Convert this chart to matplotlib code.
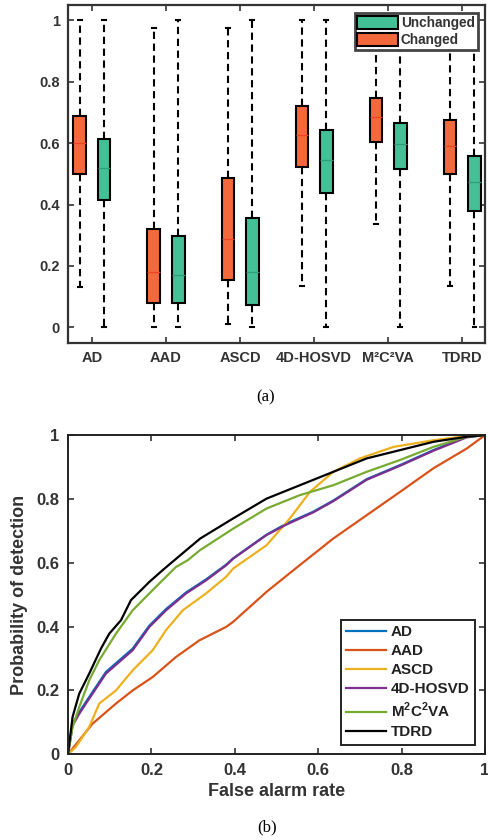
import numpy as np
import matplotlib.pyplot as plt

plt.rcParams['font.family'] = ['Liberation Sans', 'DejaVu Sans']
plt.rcParams['mathtext.fontset'] = 'custom'
plt.rcParams['mathtext.rm'] = 'Liberation Sans:bold'
plt.rcParams['mathtext.bf'] = 'Liberation Sans:bold'

# ---- (a) box plot data ----
methods = ['AD', 'AAD', 'ASCD', '4D-HOSVD', 'M²C²VA', 'TDRD']
ch_lo = [0.13, 0.00, 0.01, 0.135, 0.337, 0.136]
ch_q1 = [0.50, 0.079, 0.155, 0.522, 0.605, 0.501]
ch_med = [0.60, 0.179, 0.288, 0.628, 0.686, 0.591]
ch_q3 = [0.69, 0.32, 0.486, 0.722, 0.746, 0.674]
ch_hi = [1.00, 0.975, 0.975, 1.00, 1.00, 1.00]

un_lo = [0.00, 0.00, 0.00, 0.00, 0.00, 0.00]
un_q1 = [0.416, 0.079, 0.072, 0.437, 0.516, 0.378]
un_med = [0.519, 0.172, 0.18, 0.544, 0.597, 0.472]
un_q3 = [0.613, 0.297, 0.357, 0.643, 0.667, 0.557]
un_hi = [1.00, 1.00, 1.00, 1.00, 1.00, 1.00]

# ---- (b) ROC curves ----
ad_x = [0, 0.011, 0.027, 0.043, 0.091, 0.155, 0.195, 0.235, 0.283, 0.331, 0.379, 0.396, 0.476, 0.524, 0.588, 0.636, 0.716, 0.796, 0.876, 0.956, 1]
ad_y = [0, 0.095, 0.132, 0.164, 0.258, 0.331, 0.403, 0.455, 0.507, 0.548, 0.594, 0.614, 0.688, 0.723, 0.76, 0.795, 0.862, 0.906, 0.953, 0.995, 1]
aad_x = [0, 0.027, 0.059, 0.115, 0.155, 0.203, 0.259, 0.315, 0.379, 0.396, 0.476, 0.556, 0.636, 0.716, 0.796, 0.876, 0.956, 1]
aad_y = [0, 0.044, 0.096, 0.159, 0.2, 0.242, 0.305, 0.357, 0.399, 0.415, 0.509, 0.593, 0.676, 0.749, 0.822, 0.896, 0.958, 1]
ascd_x = [0, 0.019, 0.051, 0.075, 0.115, 0.155, 0.203, 0.235, 0.275, 0.331, 0.379, 0.396, 0.476, 0.532, 0.58, 0.636, 0.7, 0.78, 0.876, 0.956, 1]
ascd_y = [0, 0.023, 0.086, 0.159, 0.2, 0.263, 0.326, 0.389, 0.451, 0.504, 0.556, 0.582, 0.655, 0.739, 0.822, 0.885, 0.927, 0.963, 0.984, 0.997, 1]
hosvd_x = [0, 0.011, 0.027, 0.043, 0.091, 0.155, 0.195, 0.235, 0.283, 0.331, 0.379, 0.396, 0.476, 0.524, 0.588, 0.636, 0.716, 0.796, 0.876, 0.956, 1]
hosvd_y = [0, 0.09, 0.127, 0.159, 0.253, 0.326, 0.399, 0.451, 0.504, 0.545, 0.592, 0.613, 0.687, 0.72, 0.758, 0.793, 0.86, 0.904, 0.951, 0.993, 1]
m2_x = [0, 0.011, 0.027, 0.051, 0.075, 0.115, 0.155, 0.211, 0.259, 0.287, 0.317, 0.396, 0.476, 0.556, 0.636, 0.716, 0.796, 0.876, 0.956, 1]
m2_y = [0, 0.086, 0.148, 0.232, 0.295, 0.378, 0.451, 0.525, 0.587, 0.608, 0.64, 0.707, 0.77, 0.812, 0.843, 0.885, 0.922, 0.963, 0.995, 1]
tdrd_x = [0, 0.011, 0.027, 0.051, 0.079, 0.099, 0.127, 0.151, 0.195, 0.227, 0.255, 0.317, 0.396, 0.476, 0.556, 0.636, 0.716, 0.796, 0.876, 0.956, 1]
tdrd_y = [0, 0.117, 0.19, 0.253, 0.331, 0.378, 0.42, 0.483, 0.54, 0.577, 0.608, 0.676, 0.739, 0.801, 0.843, 0.885, 0.927, 0.953, 0.979, 0.995, 1]

txt = '#333333'
fig = plt.figure(figsize=(4.89, 8.4), dpi=100)

# ================= (a) =================
ax1 = fig.add_axes([0.139, 0.592, 0.853, 0.402])
pos = np.arange(1, len(methods) + 1)
off = 0.165


def stats(lo, q1, med, q3, hi):
    return [dict(whislo=lo[i], q1=q1[i], med=med[i], q3=q3[i], whishi=hi[i], fliers=[])
            for i in range(len(lo))]


common = dict(widths=0.17, patch_artist=True, showfliers=False, capwidths=0.05,
              whiskerprops=dict(color='black', linestyle=(0, (3.5, 2.2)), linewidth=1.5),
              capprops=dict(color='black', linewidth=1.5))
b1 = ax1.bxp(stats(ch_lo, ch_q1, ch_med, ch_q3, ch_hi), positions=pos - off,
             boxprops=dict(facecolor='#F4693B', edgecolor='black', linewidth=1.5),
             medianprops=dict(color='#E8452A', linewidth=0.9), **common)
b2 = ax1.bxp(stats(un_lo, un_q1, un_med, un_q3, un_hi), positions=pos + off,
             boxprops=dict(facecolor='#44C097', edgecolor='black', linewidth=1.5),
             medianprops=dict(color='#2E9E78', linewidth=0.9), **common)

ax1.set_xlim(0.676, 6.31)
ax1.set_ylim(-0.05, 1.05)
ax1.set_xticks(pos)
ax1.set_xticklabels(methods, fontsize=10.5, fontweight='bold', color=txt)
ax1.set_yticks([0, 0.2, 0.4, 0.6, 0.8, 1])
ax1.set_yticklabels(['0', '0.2', '0.4', '0.6', '0.8', '1'], fontsize=10.5, fontweight='bold', color=txt)
ax1.tick_params(direction='in', top=True, right=True, length=4, width=1.2, color=txt, pad=6)
for s in ax1.spines.values():
    s.set_linewidth(1.6)
    s.set_color(txt)
leg1 = ax1.legend([b2['boxes'][0], b1['boxes'][0]], ['Unchanged', 'Changed'],
                  loc='upper right', bbox_to_anchor=(0.982, 0.977),
                  prop=dict(weight='bold', size=9.8), fancybox=False, framealpha=1,
                  handlelength=3.0, handleheight=1.15, handletextpad=0.2,
                  borderpad=0.2, labelspacing=0.2, borderaxespad=0)
leg1.get_frame().set_edgecolor('#444444')
leg1.get_frame().set_linewidth(2.0)
for t in leg1.get_texts():
    t.set_color(txt)
fig.text(0.544, 0.527, '(a)', ha='center', va='center', fontsize=12, family='Liberation Serif')

# ================= (b) =================
ax2 = fig.add_axes([0.139, 0.102, 0.853, 0.380])
ax2.plot(ad_x, ad_y, color='#0072BD', lw=1.6, label='AD')
ax2.plot(aad_x, aad_y, color='#D95319', lw=1.6, label='AAD')
ax2.plot(ascd_x, ascd_y, color='#EDB120', lw=1.6, label='ASCD')
ax2.plot(hosvd_x, hosvd_y, color='#7E2F8E', lw=1.6, label='4D-HOSVD')
ax2.plot(m2_x, m2_y, color='#77AC30', lw=1.6, label='M$^2$C$^2$VA')
ax2.plot(tdrd_x, tdrd_y, color='black', lw=1.6, label='TDRD')
ax2.set_xlim(0, 1)
ax2.set_ylim(0, 1)
ticks = [0, 0.2, 0.4, 0.6, 0.8, 1]
ticklab = ['0', '0.2', '0.4', '0.6', '0.8', '1']
ax2.set_xticks(ticks)
ax2.set_xticklabels(ticklab, fontsize=12, fontweight='bold', color=txt)
ax2.set_yticks(ticks)
ax2.set_yticklabels(ticklab, fontsize=12, fontweight='bold', color=txt)
ax2.tick_params(direction='in', top=True, right=True, length=4, width=1.2, color=txt, pad=6)
for s in ax2.spines.values():
    s.set_linewidth(1.4)
    s.set_color('#222222')
ax2.set_xlabel('False alarm rate', fontsize=13, fontweight='bold', color=txt, labelpad=4)
ax2.set_ylabel('Probability of detection', fontsize=13, fontweight='bold', color=txt, labelpad=6)
leg2 = ax2.legend(loc='lower right', bbox_to_anchor=(0.975, 0.03), prop=dict(weight='bold', size=11),
                  fancybox=False, framealpha=1, handlelength=2.6, handletextpad=0.3,
                  borderpad=0.35, labelspacing=0.33, borderaxespad=0)
leg2.get_frame().set_edgecolor('#222222')
leg2.get_frame().set_linewidth(1.4)
for t in leg2.get_texts():
    t.set_color('#222222')
fig.text(0.546, 0.015, '(b)', ha='center', va='center', fontsize=12, family='Liberation Serif')

fig.savefig('out.png', dpi=100)
